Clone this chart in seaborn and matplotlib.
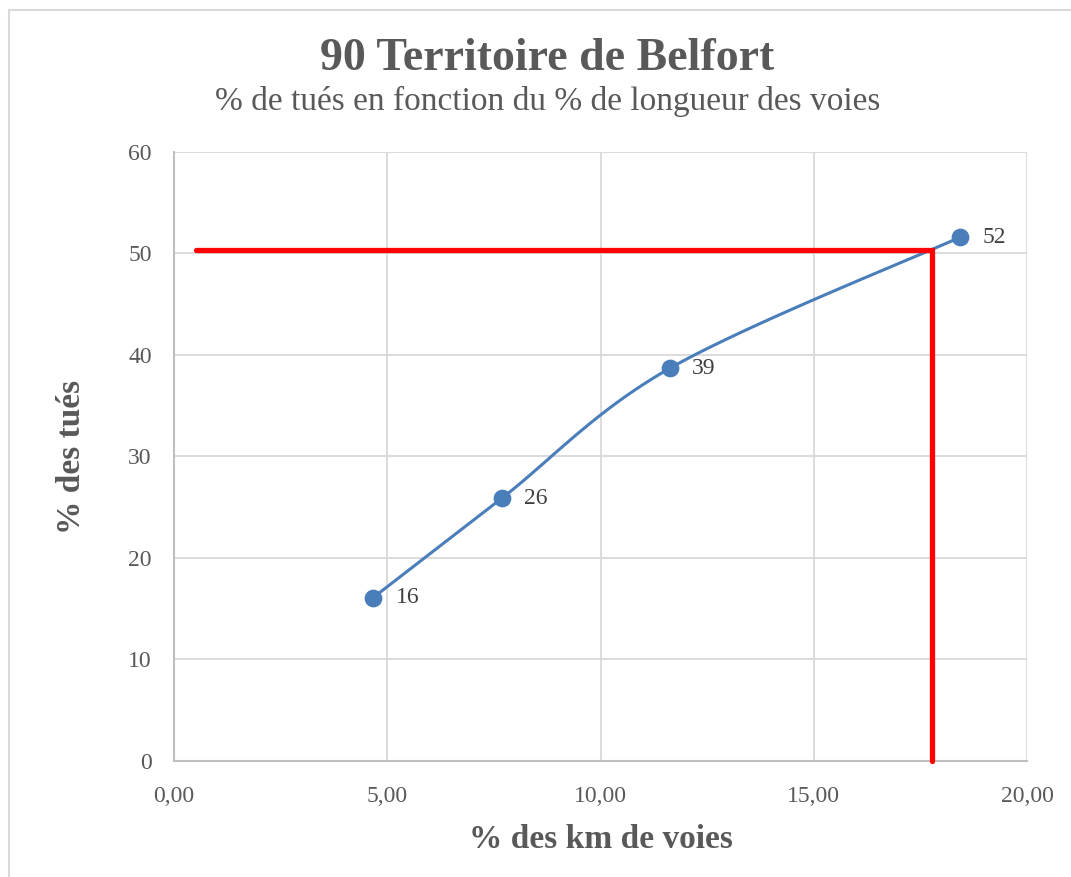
import numpy as np
import pandas as pd
import matplotlib
matplotlib.use("Agg")
import matplotlib.pyplot as plt
import seaborn as sns

# Data
pct_km = [4.67, 7.69, 11.63, 18.43]
pct_tues = [16.1, 25.9, 38.7, 51.6]
labels = ["16", "26", "39", "52"]
ref_x = [0.52, 17.77, 17.77]
ref_y = [50.3, 50.3, 0.0]

df = pd.DataFrame({"km": pct_km, "tues": pct_tues, "label": labels})

sns.set_theme(style="white")
plt.rcParams["font.family"] = ["Liberation Serif", "DejaVu Serif"]

blue = "#4A7EBB"
grey_txt = "#595959"


def smooth(xs, ys, n=40):
    # Excel-like smoothed line (Catmull-Rom through the points)
    p = np.column_stack([xs, ys]).astype(float)
    p = np.vstack([p[0], p, p[-1]])
    out = []
    for i in range(1, len(p) - 2):
        p0, p1, p2, p3 = p[i - 1], p[i], p[i + 1], p[i + 2]
        c1 = p1 + (p2 - p0) / 6
        c2 = p2 - (p3 - p1) / 6
        t = np.linspace(0, 1, n)[:, None]
        seg = ((1 - t) ** 3) * p1 + 3 * ((1 - t) ** 2) * t * c1 + 3 * (1 - t) * t ** 2 * c2 + t ** 3 * p2
        out.append(seg if i == 1 else seg[1:])
    return np.vstack(out)


fig = plt.figure(figsize=(10.71, 8.77), dpi=100)
ax = fig.add_axes([0.1625, 0.1323, 0.7964, 0.6944])

curve = smooth(df["km"], df["tues"])
ax.plot(curve[:, 0], curve[:, 1], color=blue, lw=2.2, solid_capstyle="round", zorder=3)
sns.scatterplot(data=df, x="km", y="tues", ax=ax, color=blue, s=140, edgecolor=blue, zorder=4)

for _, r in df.iterrows():
    ax.annotate(r["label"], (r["km"], r["tues"]), xytext=(16, 0), textcoords="offset points",
                va="center", ha="left", fontsize=17, color="#404040")

ax.plot(ref_x, ref_y, color="#FF0000", lw=3.8, zorder=5, clip_on=False, solid_joinstyle="miter")

ax.set_xlim(0, 20)
ax.set_ylim(0, 60)
ax.set_xticks(np.arange(0, 21, 5))
ax.set_xticklabels([f"{v:.2f}".replace(".", ",") for v in np.arange(0, 21, 5)])
ax.set_yticks(np.arange(0, 61, 10))
ax.grid(True, color="#D9D9D9", lw=1.3)
for s in ["top", "right"]:
    ax.spines[s].set_visible(False)
for s in ["left", "bottom"]:
    ax.spines[s].set_color("#BFBFBF")
    ax.spines[s].set_linewidth(1.5)
ax.tick_params(axis="both", length=0, labelsize=17, colors=grey_txt)
ax.tick_params(axis="x", pad=18)
ax.tick_params(axis="y", pad=16)

ax.set_xlabel("% des km de voies", fontsize=24, fontweight="bold", color=grey_txt, labelpad=12)
ax.set_ylabel("% des tués", fontsize=24, fontweight="bold", color=grey_txt, labelpad=30)

fig.text(0.511, 0.933, "90 Territoire de Belfort", ha="center", va="center",
         fontsize=33, fontweight="bold", color=grey_txt)
fig.text(0.511, 0.884, "% de tués en fonction du % de longueur des voies", ha="center", va="center",
         fontsize=24, color=grey_txt)

# chart area border
fig.patches.append(plt.Rectangle((9 / 1071, -0.05), 1.2, 1 - 10 / 877 + 0.05, transform=fig.transFigure,
                                 fill=False, edgecolor="#D9D9D9", lw=1.5))

fig.savefig("out.png", dpi=100)
